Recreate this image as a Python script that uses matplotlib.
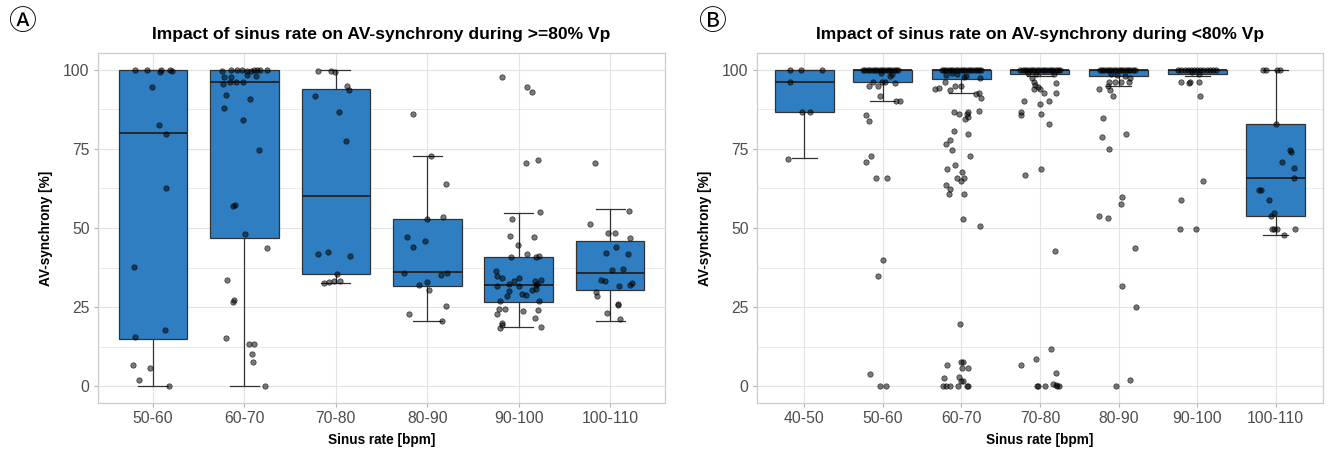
import matplotlib
matplotlib.use("Agg")
import matplotlib.pyplot as plt
import numpy as np

# ---- panel A: >=80% Vp ----
cats_a = ["50-60", "60-70", "70-80", "80-90", "90-100", "100-110"]
q1_a = [15, 47, 35.6, 31.8, 26.8, 30.3]
med_a = [80, 96, 60, 36, 32, 35.7]
q3_a = [100, 100, 93.9, 52.7, 40.7, 46]
lo_a = [0, 0, 32.8, 20.8, 18.9, 20.8]
hi_a = [100, 100, 100, 72.6, 54.8, 55.9]

vals_a = [
    [100, 100, 99.2, 100, 100, 99.5, 94.4, 82.6, 79.7, 62.5, 37.6, 15.5, 17.7, 6.7, 5.9, 1.9, 0],
    [99.5, 100, 100, 100, 99.6, 99.5, 100, 100, 100, 100, 97.6, 97.6, 95.6, 96, 96, 96, 98.2, 97.9,
     92.1, 90.7, 87.9, 84.2, 74.5, 57.1, 57.4, 48.1, 43.8, 33.7, 26.8, 27.4, 15.4, 13.5, 13.3, 10.1, 7.7, 0.2],
    [99.5, 99.5, 99.2, 94.8, 93.7, 91.6, 86.7, 77.5, 41.8, 42.3, 41.3, 35.5, 32.7, 33.1, 33.2, 33.4],
    [86, 72.9, 63.8, 53.6, 52.7, 47.1, 46, 44.1, 35.8, 35.1, 35.8, 31.9, 32.9, 30.5, 25.3, 22.9, 20.8],
    [97.8, 94.4, 93.1, 70.5, 71.4, 55.1, 52.7, 47.6, 47.1, 44.7, 40.9, 41.8, 40.7, 41.3, 36.3, 34.8,
     34.2, 34.1, 33.3, 31.8, 32.4, 31.7, 33.2, 31.9, 33.7, 32.4, 30.7, 30.5, 30, 28.5, 29.1, 28.9,
     26.9, 26.9, 24.5, 24.3, 23.7, 24.2, 22.9, 21.6, 20, 19.4, 18.4, 18.7],
    [70.5, 55.4, 51.3, 48.5, 48.5, 46.7, 44.1, 42.1, 41.8, 36.8, 37.1, 33.7, 33.2, 31.8, 32.7, 32,
     29.7, 28.6, 26, 25.8, 23.2, 21.3],
]
jit_a = [
    [-0.20, -0.07, 0.08, 0.09, 0.19, 0.21, -0.01, 0.07, 0.14, 0.14, -0.21, -0.20, 0.13, -0.22, -0.03, -0.15, 0.18],
    [-0.24, -0.15, -0.08, -0.03, 0.03, 0.07, 0.10, 0.14, 0.17, 0.25, -0.22, -0.15, -0.23, -0.16, -0.09, -0.01, 0.03, 0.13,
     -0.20, 0.06, -0.22, -0.01, 0.16, -0.12, -0.10, 0.01, 0.25, -0.19, -0.12, -0.11, -0.20, 0.05, 0.11, 0.08, 0.09, 0.23],
    [-0.19, -0.05, -0.01, 0.12, 0.14, -0.23, 0.03, 0.11, -0.19, -0.09, 0.16, 0.01, -0.13, -0.08, -0.02, 0.05],
    [-0.16, 0.04, 0.20, 0.17, 0.0, -0.22, -0.02, -0.16, -0.25, 0.15, 0.22, -0.09, 0.0, 0.02, 0.20, -0.20, 0.16],
    [-0.18, 0.09, 0.15, 0.08, 0.21, 0.23, -0.07, -0.10, 0.17, -0.01, -0.09, 0.09, 0.19, 0.22, -0.25, -0.24,
     -0.18, 0.0, -0.05, -0.24, -0.11, 0.0, 0.18, 0.19, 0.24, 0.20, 0.19, 0.14, -0.11, -0.13, 0.04, 0.08,
     -0.20, 0.22, -0.22, -0.15, 0.05, 0.21, -0.24, 0.18, -0.18, -0.18, -0.20, 0.24],
    [-0.17, 0.21, -0.22, -0.02, 0.05, 0.22, 0.06, -0.05, 0.20, 0.02, 0.14, -0.10, -0.06, 0.10, 0.24, 0.22,
     -0.16, -0.14, 0.08, 0.09, -0.03, 0.11],
]

# ---- panel B: <80% Vp ----
cats_b = ["40-50", "50-60", "60-70", "70-80", "80-90", "90-100", "100-110"]
q1_b = [86.7, 96, 97, 98.7, 97.9, 98.7, 53.8]
med_b = [96, 100, 100, 100, 100, 100, 65.9]
q3_b = [100, 100, 100, 100, 100, 100, 82.9]
lo_b = [72, 90, 92.8, 97.9, 94.9, 98, 47.9]
hi_b = [100, 100, 100, 100, 100, 100, 100]

vals_b = [
    [100, 100, 100, 96, 86.7, 86.7, 71.9],
    [100, 100, 100, 100, 100, 100, 100, 100, 100, 100, 100, 100, 100, 100, 100, 100, 99, 98.5,
     97.9, 96, 96, 96, 95.7, 95, 95, 91.8, 90, 90, 85.8, 83.9, 72.9, 70.8, 65.9, 65.9, 40, 34.9, 3.8, 0, 0],
    [100, 100, 100, 100, 100, 100, 100, 100, 100, 100, 100, 100, 100, 100, 100, 100, 100, 100,
     99, 98.5, 98, 97.5, 98.2, 97.8, 96.2, 93.9, 94.2, 93.7, 95, 95, 92.8, 92.3, 91, 87.1, 86.7, 85.9,
     85.9, 86.5, 84.3, 85, 80.7, 79.8, 76.7, 77.9, 74.7, 72.9, 69.8, 68.7, 67.6, 65.9, 65.8, 64.8,
     63.7, 62.4, 60.8, 60.8, 52.7, 50.6, 19.8, 6.9, 7.7, 7.7, 5.9, 5.9, 2.7, 2.9, 1.7, 1.7,
     0, 0, 0, 0, 0, 0],
    [100, 100, 100, 100, 100, 100, 100, 100, 100, 100, 100, 100, 100, 100, 100, 100, 100, 100,
     99, 98.8, 98.5, 97.4, 96.1, 95.3, 94.5, 93.9, 93.9, 92.8, 95.7, 92.8, 90, 90, 89.1, 86.8, 85.8,
     86.1, 82.9, 68.8, 66.6, 42.8, 11.9, 8.7, 6.7, 4.1, 0, 0, 0, 0.6, 0.3, 0, 0],
    [100, 100, 100, 100, 100, 100, 100, 100, 100, 100, 100, 100, 100, 100, 100, 100,
     98.8, 98.2, 98, 97.5, 96, 96, 96, 96, 95, 93.9, 93.7, 91.8, 84.9, 78.7, 79.8, 75.1, 59.8, 57.7,
     53.9, 53.1, 43.8, 31.8, 25.1, 1.9, 0],
    [100, 100, 100, 100, 100, 100, 100, 100, 100, 100, 100, 100, 100, 99.3, 98.8,
     96, 96, 95.8, 96, 91.8, 64.7, 58.7, 49.8, 49.6],
    [100, 100, 100, 100, 82.8, 74.7, 74, 70.8, 69.1, 65.9, 61.9, 61.9, 58.7, 54.8, 53.8, 49.8, 49.8,
     49.8, 49.8, 47.7],
]
jit_b = [
    [-0.18, -0.04, 0.23, -0.18, -0.03, 0.08, -0.21],
    [-0.25, -0.22, -0.19, -0.16, -0.13, -0.10, -0.07, -0.04, -0.01, 0.02, 0.05, 0.08, 0.11, 0.14, 0.17, 0.20,
     -0.02, 0.12, 0.09, -0.13, -0.01, 0.03, 0.15, -0.18, -0.06, -0.03, 0.17, 0.22, -0.21, -0.18, -0.15, -0.21,
     -0.08, 0.05, 0.0, -0.06, -0.16, -0.03, 0.04],
    [-0.25, -0.22, -0.19, -0.16, -0.13, -0.10, -0.07, -0.04, -0.01, 0.02, 0.05, 0.08, 0.11, 0.14, 0.17, 0.20,
     0.23, 0.25, -0.12, -0.05, 0.06, 0.24, -0.20, 0.03, -0.21, -0.33, -0.29, -0.14, -0.08, -0.01, 0.22, 0.19,
     0.25, 0.23, -0.09, -0.03, 0.07, 0.09, 0.05, 0.08, -0.09, 0.09, -0.19, -0.14, -0.12, 0.11, -0.08, -0.18,
     0.01, -0.06, 0.04, 0.0, -0.19, -0.14, -0.16, 0.03, 0.02, 0.24, -0.02, -0.18, 0.0, 0.02, 0.01, 0.09,
     -0.22, -0.03, 0.0, 0.02, -0.23, -0.20, -0.14, -0.04, 0.07, 0.08],
    [-0.25, -0.22, -0.19, -0.16, -0.13, -0.10, -0.07, -0.04, -0.01, 0.02, 0.05, 0.08, 0.11, 0.14, 0.17, 0.20,
     0.23, 0.25, -0.15, -0.05, 0.18, -0.10, -0.08, -0.06, -0.03, -0.08, 0.0, 0.05, 0.20, 0.20, -0.20, 0.11,
     0.0, -0.24, -0.24, 0.01, 0.12, 0.01, -0.19, 0.19, 0.14, -0.05, -0.24, 0.21, -0.04, -0.03, 0.07, 0.17,
     0.20, 0.22, 0.24],
    [-0.24, -0.21, -0.18, -0.15, -0.12, -0.09, -0.06, -0.03, 0.0, 0.03, 0.06, 0.09, 0.12, 0.15, 0.18, 0.21,
     -0.10, -0.02, 0.08, 0.14, -0.12, -0.04, 0.03, 0.13, -0.14, -0.25, -0.11, -0.07, -0.20, -0.21, 0.09,
     -0.12, 0.05, 0.03, -0.25, -0.13, 0.21, 0.04, 0.22, 0.15, -0.03],
    [-0.24, -0.20, -0.16, -0.12, -0.08, -0.04, 0.0, 0.04, 0.08, 0.12, 0.16, 0.20, 0.24, -0.06, 0.02,
     -0.20, -0.09, -0.10, 0.02, 0.03, 0.08, -0.21, -0.22, -0.01],
    [-0.16, -0.13, 0.01, 0.05, 0.0, 0.18, 0.19, 0.08, 0.23, 0.23, -0.21, -0.19, -0.09, -0.02, -0.06,
     -0.05, -0.02, 0.01, 0.25, 0.11],
]

BOX = "#2E7EC1"
GRID = "#e3e3e3"


def draw_panel(ax, cats, q1, med, q3, lo, hi, vals, jit, title):
    pos = np.arange(len(cats))
    stats = [dict(med=m, q1=a, q3=b, whislo=l, whishi=h, label=c)
             for c, a, m, b, l, h in zip(cats, q1, med, q3, lo, hi)]
    ax.bxp(stats, positions=pos, widths=0.75, patch_artist=True, showfliers=False,
           capwidths=0.32,
           boxprops=dict(facecolor=BOX, edgecolor="#333333", linewidth=0.9),
           medianprops=dict(color="#222222", linewidth=1.3),
           whiskerprops=dict(color="#333333", linewidth=0.9),
           capprops=dict(color="#333333", linewidth=0.9))
    for i, (v, j) in enumerate(zip(vals, jit)):
        ax.scatter(i + np.array(j), v, s=15, facecolor=(0, 0, 0, 0.52),
                   edgecolor=(0, 0, 0, 0.7), linewidth=0.5, zorder=4)

    ax.set_xlim(-0.6, len(cats) - 0.4)
    ax.set_ylim(-5.25, 105.25)
    ax.set_yticks([0, 25, 50, 75, 100])
    ax.set_yticks([12.5, 37.5, 62.5, 87.5], minor=True)
    ax.set_xticks(pos)
    ax.set_xticklabels(cats)
    ax.grid(True, which="major", color=GRID, linewidth=0.8)
    ax.grid(True, which="minor", axis="y", color=GRID, linewidth=0.5)
    ax.set_axisbelow(True)
    ax.tick_params(which="major", length=3, color="#b3b3b3", labelcolor="#4d4d4d",
                   labelsize=11.3, pad=3)
    ax.tick_params(which="minor", length=0)
    for sp in ax.spines.values():
        sp.set_color("#cccccc")
        sp.set_linewidth(0.9)
    ax.set_xlabel("Sinus rate [bpm]", fontsize=9.8, fontweight="bold", labelpad=5)
    ax.set_ylabel("AV-synchrony [%]", fontsize=9.8, fontweight="bold", labelpad=7)
    ax.set_title(title, fontsize=12.6, fontweight="bold", pad=10)


def main():
    plt.rcParams["font.family"] = ["Liberation Sans Narrow", "Liberation Sans", "DejaVu Sans"]
    fig = plt.figure(figsize=(13.32, 4.55), dpi=100)
    ax_a = fig.add_axes([0.0736, 0.1143, 0.4257, 0.769])
    ax_b = fig.add_axes([0.5683, 0.1143, 0.4249, 0.769])
    draw_panel(ax_a, cats_a, q1_a, med_a, q3_a, lo_a, hi_a, vals_a, jit_a,
               "Impact of sinus rate on AV-synchrony during >=80% Vp")
    draw_panel(ax_b, cats_b, q1_b, med_b, q3_b, lo_b, hi_b, vals_b, jit_b,
               "Impact of sinus rate on AV-synchrony during <80% Vp")
    for ax in (ax_a, ax_b):
        for lab in ax.get_xticklabels() + ax.get_yticklabels():
            lab.set_fontfamily(["Liberation Sans", "DejaVu Sans"])
    circ_fonts = ["Noto Sans CJK SC", "Noto Sans CJK JP", "DejaVu Sans"]
    fig.text(22 / 1332, 1 - 22 / 455, "\u24b6", fontsize=20, ha="center", va="center",
             family=circ_fonts)
    fig.text(712 / 1332, 1 - 22 / 455, "\u24b7", fontsize=20, ha="center", va="center",
             family=circ_fonts)
    fig.savefig("out.png", dpi=100)


if __name__ == "__main__":
    main()
